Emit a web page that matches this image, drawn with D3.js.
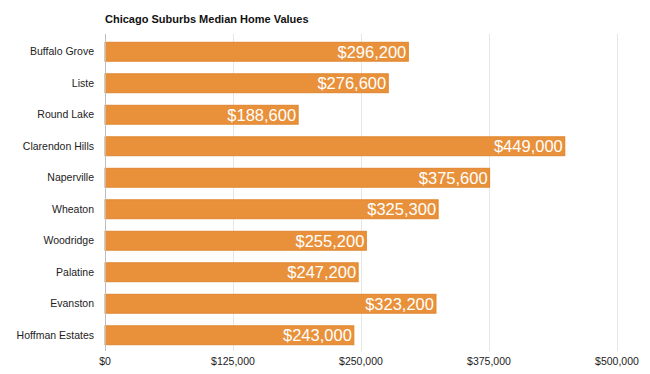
<!DOCTYPE html>
<html>
<head>
<meta charset="utf-8">
<script src="https://cdn.jsdelivr.net/npm/d3@7"></script>
<style>
  body { margin: 0; background: #fff; }
  text { font-family: "Liberation Sans", Arial, sans-serif; }
</style>
</head>
<body>
<div id="chart"></div>
<script>
var suburbs = ["Buffalo Grove", "Liste", "Round Lake", "Clarendon Hills", "Naperville",
  "Wheaton", "Woodridge", "Palatine", "Evanston", "Hoffman Estates"];
var homeValues = [296200, 276600, 188600, 449000, 375600, 325300, 255200, 247200, 323200, 243000];
var xTicks = [0, 125000, 250000, 375000, 500000];

var svgWidth = 650;
var svgHeight = 374;

var margin = { top: 36, right: 33, bottom: 23, left: 105 };
var width = svgWidth - margin.left - margin.right;
var height = svgHeight - margin.top - margin.bottom;

var svg = d3.select("#chart")
  .append("svg")
  .attr("width", svgWidth)
  .attr("height", svgHeight);

var chartGroup = svg.append("g")
  .attr("transform", `translate(${margin.left}, ${margin.top})`);

var data = suburbs.map((s, i) => ({ name: s, value: homeValues[i] }));

var xScale = d3.scaleLinear().domain([0, 500000]).range([0, 512]);
var yScale = d3.scaleBand().domain(suburbs).range([0, height]).paddingInner(0.4).paddingOuter(0.2);

// gridlines
chartGroup.selectAll(".grid")
  .data(xTicks.slice(1))
  .enter()
  .append("line")
  .attr("x1", d => xScale(d) + 0.5)
  .attr("x2", d => xScale(d) + 0.5)
  .attr("y1", -2)
  .attr("y2", height)
  .attr("stroke", "#e6e6e6");

// bars
chartGroup.selectAll("rect")
  .data(data)
  .enter()
  .append("rect")
  .attr("x", 0)
  .attr("y", d => yScale(d.name))
  .attr("width", d => xScale(d.value))
  .attr("height", yScale.bandwidth())
  .attr("fill", "#e8913a")
  .attr("stroke", "#df8530")
  .attr("stroke-width", 1);

// axis line
chartGroup.append("line")
  .attr("x1", 0.5).attr("x2", 0.5)
  .attr("y1", -2).attr("y2", height)
  .attr("stroke", "#bdbdbd");

// value labels
chartGroup.selectAll(".valueText")
  .data(data)
  .enter()
  .append("text")
  .attr("class", "valueText")
  .attr("x", d => xScale(d.value) - 2)
  .attr("y", d => yScale(d.name) + yScale.bandwidth() / 2)
  .attr("dy", "0.36em")
  .attr("text-anchor", "end")
  .attr("font-size", "16.5px")
  .attr("fill", "#fff")
  .text(d => d3.format("$,")(d.value));

// category labels
chartGroup.selectAll(".catText")
  .data(data)
  .enter()
  .append("text")
  .attr("class", "catText")
  .attr("x", -11)
  .attr("y", d => yScale(d.name) + yScale.bandwidth() / 2)
  .attr("dy", "0.35em")
  .attr("text-anchor", "end")
  .attr("font-size", "10.5px")
  .attr("fill", "#222")
  .text(d => d.name);

// x tick labels
chartGroup.selectAll(".tickText")
  .data(xTicks)
  .enter()
  .append("text")
  .attr("class", "tickText")
  .attr("x", d => xScale(d))
  .attr("y", height + 14)
  .attr("text-anchor", "middle")
  .attr("font-size", "10.5px")
  .attr("fill", "#222")
  .text(d => d3.format("$,")(d));

// title
svg.append("text")
  .attr("x", margin.left)
  .attr("y", 23)
  .attr("font-size", "11px")
  .attr("font-weight", "bold")
  .attr("fill", "#111")
  .text("Chicago Suburbs Median Home Values");
</script>
</body>
</html>
